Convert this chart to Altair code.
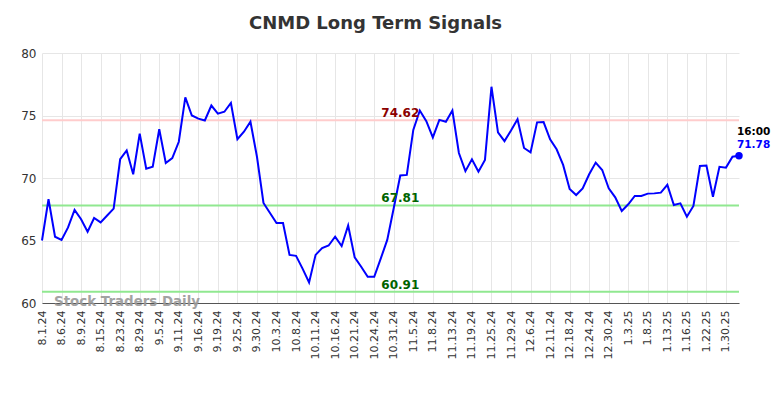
import altair as alt
import pandas as pd

# ---- data ----
tick_labels = ["8.1.24", "8.6.24", "8.9.24", "8.15.24", "8.23.24", "8.29.24", "9.5.24",
               "9.11.24", "9.16.24", "9.19.24", "9.25.24", "9.30.24", "10.3.24", "10.8.24",
               "10.11.24", "10.16.24", "10.21.24", "10.24.24", "10.31.24", "11.5.24", "11.8.24",
               "11.13.24", "11.19.24", "11.25.24", "11.29.24", "12.6.24", "12.11.24", "12.18.24",
               "12.24.24", "12.30.24", "1.3.25", "1.8.25", "1.13.25", "1.16.25", "1.22.25", "1.30.25"]
label_every = 3

prices = [65.0, 68.3, 65.3, 65.05, 66.05, 67.45, 66.7, 65.7, 66.8, 66.45,
          67.0, 67.55, 71.5, 72.2, 70.3, 73.55, 70.75, 70.9, 73.9, 71.2,
          71.6, 72.9, 76.45, 75.0, 74.75, 74.6, 75.8, 75.15, 75.3, 76.0,
          73.1, 73.7, 74.5, 71.7, 68.0, 67.2, 66.4, 66.4, 63.85, 63.77,
          62.75, 61.65, 63.85, 64.4, 64.6, 65.3, 64.55, 66.2, 63.65, 62.9,
          62.1, 62.1, 63.55, 65.05, 67.6, 70.2, 70.25, 73.85, 75.4, 74.55,
          73.25, 74.65, 74.5, 75.4, 72.0, 70.55, 71.5, 70.5, 71.45, 77.3,
          73.65, 72.95, 73.8, 74.7, 72.4, 72.05, 74.45, 74.47, 73.1, 72.3,
          71.05, 69.12, 68.64, 69.17, 70.3, 71.23, 70.64, 69.17, 68.45, 67.36,
          67.9, 68.56, 68.56, 68.75, 68.77, 68.83, 69.45, 67.84, 67.97, 66.9,
          67.76, 70.96, 71.0, 68.5, 70.9, 70.83, 71.7, 71.78]

levels = [74.62, 67.81, 60.91]
level_line_colors = ["#ffcccc", "#90e890", "#90e890"]
level_text_colors = ["#8b0000", "#006400", "#006400"]

last_time = "16:00"
title_text = "CNMD Long Term Signals"
watermark = "Stock Traders Daily"

# ---- tables ----
df = pd.DataFrame({"idx": list(range(len(prices))), "price": prices})
lv = pd.DataFrame({"level": levels, "lc": level_line_colors, "tc": level_text_colors,
                   "label": [f"{v:.2f}" for v in levels],
                   "xpos": [55] * len(levels)})
last = df.tail(1).copy()
last["t1"] = last_time
last["t2"] = [f"{v:.2f}" for v in last["price"]]

n = len(prices)
tick_vals = [i * label_every for i in range(len(tick_labels))]
label_expr = "[" + ",".join(f"'{t}'" for t in tick_labels) + f"][round(datum.value/{label_every})]"

FONT = "DejaVu Sans"
xscale = alt.Scale(domain=[0, n - 1], nice=False, zero=False)
yscale = alt.Scale(domain=[60, 80], nice=False, zero=False)

x_enc = alt.X("idx:Q", scale=xscale,
              axis=alt.Axis(values=tick_vals, tickCount=200, labelExpr=label_expr, labelAngle=-90,
                            labelAlign="right", labelBaseline="middle", labelPadding=7,
                            ticks=False, grid=True, gridColor="#e6e6e6", domain=True,
                            domainColor="#555555", labelFont=FONT, labelFontSize=11,
                            labelColor="#333333", title=None, labelOverlap=False))
y_enc = alt.Y("price:Q", scale=yscale,
              axis=alt.Axis(values=[60, 65, 70, 75, 80], ticks=False, grid=True,
                            gridColor="#e6e6e6", domain=False, labelFont=FONT,
                            labelFontSize=12, labelColor="#333333", labelPadding=6,
                            title=None))

rules = alt.Chart(lv).mark_rule(strokeWidth=2).encode(
    y=alt.Y("level:Q", scale=yscale),
    color=alt.Color("lc:N", scale=None),
)

line = alt.Chart(df).mark_line(color="#0000ff", strokeWidth=2).encode(x=x_enc, y=y_enc)

level_text = alt.Chart(lv).mark_text(fontWeight="bold", fontSize=12, font=FONT,
                                     align="center", baseline="bottom", dy=0).encode(
    x=alt.X("xpos:Q", scale=xscale),
    y=alt.Y("level:Q", scale=yscale),
    text="label:N",
    color=alt.Color("tc:N", scale=None),
)

wm = alt.Chart(pd.DataFrame({"t": [watermark]})).mark_text(
    fontWeight="bold", fontSize=13.4, font=FONT, color="#999999", opacity=0.9,
    align="left", baseline="middle").encode(
    x=alt.value(12), y=alt.value(249), text="t:N")

dot = alt.Chart(last).mark_point(filled=True, size=55, color="#0000ff", opacity=1).encode(
    x=alt.X("idx:Q", scale=xscale), y=alt.Y("price:Q", scale=yscale))

t1 = alt.Chart(last).mark_text(fontWeight="bold", fontSize=10.5, font=FONT, color="#000000",
                               align="left", baseline="middle", dy=-24, dx=-2).encode(
    x=alt.X("idx:Q", scale=xscale), y=alt.Y("price:Q", scale=yscale), text="t1:N")
t2 = alt.Chart(last).mark_text(fontWeight="bold", fontSize=10.5, font=FONT, color="#0000ff",
                               align="left", baseline="middle", dy=-11, dx=-2).encode(
    x=alt.X("idx:Q", scale=xscale), y=alt.Y("price:Q", scale=yscale), text="t2:N")

chart = alt.layer(rules, line, level_text, wm, dot, t1, t2).properties(
    width=697, height=250,
    title=alt.TitleParams(title_text, fontSize=18, fontWeight="bold", font=FONT,
                          color="#333333", anchor="middle", offset=14, dx=-15),
    autosize=alt.AutoSizeParams(type="none"),
    padding={"left": 34, "top": 45, "right": 37, "bottom": 95},
).configure_view(stroke=None)

chart.save("out.html", embed_options={"renderer": "svg", "actions": False})
